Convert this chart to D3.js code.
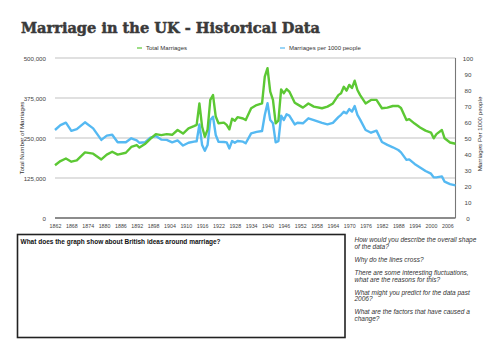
<!DOCTYPE html>
<html>
<head>
<meta charset="utf-8">
<script src="https://cdn.jsdelivr.net/npm/d3@7"></script>
<style>
  body { margin: 0; background: #fff; }
  svg { display: block; font-family: "Liberation Sans", Arial, sans-serif; }
</style>
</head>
<body>
<div class="svg"></div>
<script>
const w = 500;
const h = 354;

// data (irregular years, sharper points where the lines jump)
const years = [1862, 1864, 1866, 1868, 1870, 1873, 1876, 1879, 1881, 1883, 1885, 1888, 1890, 1892, 1893, 1895, 1897, 1899,
  1901, 1903, 1905, 1907, 1909, 1911, 1913, 1914, 1915, 1916, 1917, 1918, 1919, 1920, 1921, 1922, 1924, 1925, 1926, 1927,
  1928, 1929, 1931, 1932, 1934, 1936, 1938, 1939, 1940, 1941, 1942, 1943, 1944, 1945, 1946, 1947, 1948, 1950, 1951, 1953,
  1955, 1957, 1960, 1962, 1964, 1966, 1967, 1968, 1969, 1970, 1971, 1972, 1973, 1974, 1976, 1978, 1980, 1982, 1984, 1986,
  1988, 1989, 1991, 1992, 1994, 1996, 1998, 2000, 2001, 2002, 2004, 2005, 2007, 2009];

const totalMarriages = [165000, 178000, 186000, 176000, 180000, 205000, 201000, 183000, 198000, 207000, 198000, 204000,
  222000, 228000, 220000, 231000, 247000, 262000, 259000, 262000, 260000, 275000, 264000, 280000, 287000, 291000, 358000,
  285000, 254000, 276000, 369000, 384000, 317000, 296000, 298000, 291000, 277000, 310000, 304000, 315000, 311000, 306000,
  343000, 353000, 358000, 442000, 468000, 395000, 369000, 296000, 304000, 402000, 390000, 403000, 395000, 360000, 355000,
  345000, 358000, 348000, 343000, 348000, 358000, 384000, 390000, 410000, 398000, 416000, 406000, 429000, 400000, 384000,
  358000, 369000, 369000, 343000, 345000, 350000, 350000, 344000, 306000, 309000, 295000, 283000, 273000, 267000, 249000,
  262000, 275000, 249000, 236000, 232000];

const per1000 = [55, 58, 59.6, 54.5, 55.5, 59.8, 56, 48.8, 51.5, 52, 47.3, 47.3, 49.8, 48.5, 47, 47.3, 50.2, 51.2, 49, 48.8,
  47.3, 48.5, 45.3, 47, 47.7, 48, 58.5, 45.6, 42, 45.6, 61.2, 63.3, 51.9, 47.7, 47.5, 47.3, 43.5, 48.1, 47, 48.1, 47.7, 46.7,
  52.9, 53.8, 54.4, 64.4, 71.7, 61.2, 59.2, 47.3, 48, 63.9, 61.2, 64.8, 64, 58.5, 59.5, 59.2, 62.3, 61.2, 59.4, 58.5, 59.5,
  63, 64.5, 66.4, 65.4, 68.1, 66.5, 70, 64.4, 61.5, 55, 53.3, 54.6, 47.5, 45.7, 44.2, 42.5, 41, 36.3, 36.6, 33.8, 31.6, 29.4,
  27.7, 25.4, 25.4, 26, 22.7, 21.2, 20.4];

const xTicks = d3.range(1862, 2007, 6);
const leftTicks = [0, 125000, 250000, 375000, 500000];
const rightTicks = d3.range(0, 101, 10);

const questions = [
  "How would you describe the overall shape", "of the data?", "",
  "Why do the lines cross?", "",
  "There are some interesting fluctuations,", "what are the reasons for this?", "",
  "What might you predict for the data past", "2006?", "",
  "What are the factors that have caused a", "change?"
];

const green = "#5cc834";
const blue = "#55b9f2";

const plot = { left: 55, right: 455.5, top: 58, bottom: 218 };

const svg = d3.select(".svg").append("svg")
  .attr("width", w)
  .attr("height", h);

let xScale, yLeft, yRight;

let drawTitle = () => {
  svg.append("text")
    .text("Marriage in the UK - Historical Data")
    .attr("x", 21)
    .attr("y", 33)
    .attr("textLength", 299)
    .attr("lengthAdjust", "spacingAndGlyphs")
    .style("font-family", "'DejaVu Serif', serif")
    .style("font-weight", "bold")
    .style("font-size", "15px")
    .attr("fill", "#3a3a3a")
    .attr("stroke", "#3a3a3a")
    .attr("stroke-width", 0.5);

  const legend = [
    { label: "Total Marriages", color: green, x: 137 },
    { label: "Marriages per 1000 people", color: blue, x: 280 }
  ];
  const lg = svg.append("g").selectAll("g").data(legend).enter().append("g");
  lg.append("line")
    .attr("x1", d => d.x).attr("x2", d => d.x + 5)
    .attr("y1", 48).attr("y2", 48)
    .attr("stroke", d => d.color).attr("stroke-width", 1.2);
  lg.append("text")
    .text(d => d.label)
    .attr("x", d => d.x + 9)
    .attr("y", 50.2)
    .style("font-size", "6px")
    .attr("fill", "#333");
};

let createScales = () => {
  xScale = d3.scaleLinear().domain([1862, 2009]).range([plot.left, plot.right]);
  yLeft = d3.scaleLinear().domain([0, 500000]).range([plot.bottom, plot.top]);
  yRight = d3.scaleLinear().domain([0, 100]).range([plot.bottom, plot.top]);
};

let createAxis = () => {
  // grid
  svg.append("g").selectAll("line")
    .data(leftTicks.slice(1))
    .enter().append("line")
    .attr("x1", plot.left).attr("x2", plot.right)
    .attr("y1", d => yLeft(d)).attr("y2", d => yLeft(d))
    .attr("stroke", "#d6d6d6").attr("stroke-width", 1.4);

  const left = svg.append("g")
    .attr("transform", "translate(" + (plot.left - 6) + ",0)")
    .call(d3.axisLeft(yLeft).tickValues(leftTicks).tickFormat(d3.format(",")).tickSize(0));
  left.select(".domain").remove();
  left.selectAll("text").style("font-size", "6.2px").attr("fill", "#444").attr("dy", "0.35em");

  const right = svg.append("g")
    .attr("transform", "translate(" + (plot.right + 12.5) + ",0)")
    .call(d3.axisRight(yRight).tickValues(rightTicks).tickSize(0));
  right.select(".domain").remove();
  right.selectAll("text").style("font-size", "6.2px").attr("fill", "#444")
    .attr("x", 0).attr("text-anchor", "middle").attr("dy", "0.35em");

  const bottom = svg.append("g")
    .attr("transform", "translate(0," + (plot.bottom + 3) + ")")
    .call(d3.axisBottom(xScale).tickValues(xTicks).tickFormat(d3.format("d")).tickSize(0));
  bottom.select(".domain").remove();
  bottom.selectAll("text").style("font-size", "5.3px").attr("fill", "#444").attr("dy", "0.71em");

  // frame lines
  svg.append("line")
    .attr("x1", plot.left).attr("x2", plot.right)
    .attr("y1", plot.bottom).attr("y2", plot.bottom)
    .attr("stroke", "#666").attr("stroke-width", 1.3);
  svg.append("line")
    .attr("x1", plot.right).attr("x2", plot.right)
    .attr("y1", plot.top).attr("y2", plot.bottom)
    .attr("stroke", "#777").attr("stroke-width", 1.1);

  svg.append("text")
    .text("Total Number of Marriages")
    .attr("transform", "translate(24,138) rotate(-90)")
    .attr("text-anchor", "middle")
    .style("font-size", "6.2px")
    .attr("fill", "#333");
  svg.append("text")
    .text("Marriages Per 1000 people")
    .attr("transform", "translate(482,134) rotate(-90)")
    .attr("text-anchor", "middle")
    .style("font-size", "6.2px")
    .attr("fill", "#333");
};

let createPlot = () => {
  const idx = d3.range(years.length);
  const greenLine = d3.line()
    .x(i => xScale(years[i]))
    .y(i => yLeft(totalMarriages[i]));
  const blueLine = d3.line()
    .x(i => xScale(years[i]))
    .y(i => yRight(per1000[i]));

  svg.append("path")
    .datum(idx)
    .attr("d", blueLine)
    .attr("fill", "none")
    .attr("stroke", blue)
    .attr("stroke-width", 2.4)
    .attr("stroke-linejoin", "round");
  svg.append("path")
    .datum(idx)
    .attr("d", greenLine)
    .attr("fill", "none")
    .attr("stroke", green)
    .attr("stroke-width", 2.4)
    .attr("stroke-linejoin", "round");
};

let drawQuestions = () => {
  svg.append("rect")
    .attr("x", 17.5).attr("y", 234.5)
    .attr("width", 327.5).attr("height", 103)
    .attr("fill", "#fff")
    .attr("stroke", "#222")
    .attr("stroke-width", 1.6);

  svg.append("text")
    .text("What does the graph show about British ideas around marriage?")
    .attr("x", 20.5)
    .attr("y", 243.5)
    .style("font-size", "6.5px")
    .style("font-weight", "bold")
    .attr("fill", "#111");

  svg.append("g").selectAll("text")
    .data(questions)
    .enter().append("text")
    .text(d => d)
    .attr("x", 354.5)
    .attr("y", (d, i) => 242.3 + i * 6.55)
    .style("font-size", "6.5px")
    .style("font-style", "italic")
    .attr("fill", "#333");
};

drawTitle();
createScales();
createAxis();
createPlot();
drawQuestions();
</script>
</body>
</html>
